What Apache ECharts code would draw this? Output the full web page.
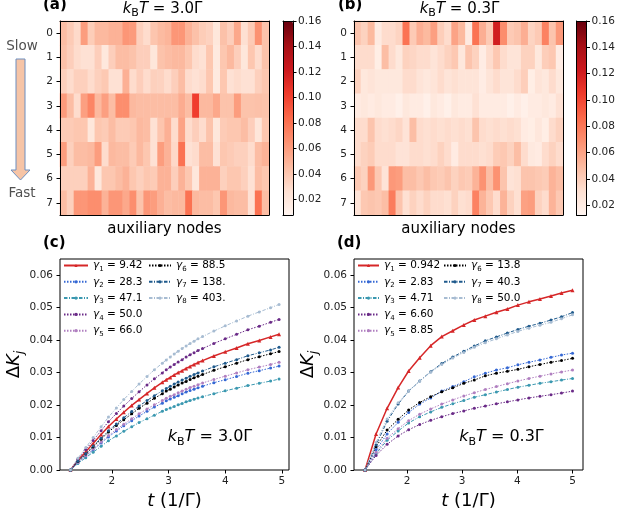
<!DOCTYPE html>
<html><head><meta charset="utf-8">
<script src="https://cdn.jsdelivr.net/npm/echarts@6/dist/echarts.min.js"></script>
<style>html,body{margin:0;padding:0;background:#fff}#c{width:618px;height:514px}</style>
</head><body><div id="c"></div>
<script>
// ---------- data ----------
const rowLabels = ['0','1','2','3','4','5','6','7'];
const auxNodes = ['1','2','3','4','5','6','7','8','9','10','11','12','13','14','15','16','17','18','19','20','21','22','23','24','25','26','27','28','29','30'];
const heatA = [
 [0.045,0.038,0.030,0.060,0.037,0.047,0.047,0.050,0.050,0.063,0.061,0.035,0.029,0.041,0.046,0.049,0.063,0.063,0.050,0.043,0.037,0.034,0.021,0.043,0.036,0.055,0.027,0.038,0.065,0.042],
 [0.043,0.036,0.029,0.026,0.026,0.036,0.020,0.036,0.045,0.045,0.042,0.036,0.036,0.022,0.042,0.045,0.047,0.047,0.040,0.029,0.026,0.040,0.019,0.040,0.047,0.036,0.021,0.040,0.029,0.042],
 [0.035,0.029,0.035,0.035,0.029,0.035,0.039,0.026,0.026,0.051,0.029,0.036,0.029,0.035,0.034,0.029,0.036,0.045,0.029,0.026,0.029,0.040,0.019,0.040,0.026,0.029,0.026,0.026,0.035,0.040],
 [0.061,0.045,0.029,0.059,0.071,0.047,0.059,0.045,0.067,0.067,0.047,0.045,0.045,0.045,0.045,0.045,0.045,0.053,0.045,0.102,0.047,0.047,0.055,0.042,0.042,0.060,0.042,0.042,0.043,0.042],
 [0.038,0.038,0.040,0.040,0.021,0.040,0.038,0.045,0.038,0.038,0.040,0.047,0.045,0.026,0.041,0.051,0.029,0.057,0.029,0.036,0.029,0.042,0.021,0.038,0.040,0.040,0.045,0.036,0.022,0.040],
 [0.060,0.035,0.045,0.045,0.047,0.060,0.029,0.047,0.045,0.045,0.038,0.047,0.040,0.026,0.060,0.050,0.031,0.080,0.026,0.029,0.045,0.045,0.026,0.040,0.038,0.035,0.035,0.029,0.045,0.050],
 [0.035,0.035,0.035,0.035,0.050,0.021,0.040,0.040,0.045,0.050,0.040,0.035,0.040,0.038,0.050,0.050,0.036,0.050,0.040,0.021,0.050,0.050,0.050,0.035,0.040,0.040,0.035,0.026,0.045,0.040],
 [0.045,0.035,0.063,0.063,0.067,0.067,0.050,0.063,0.063,0.055,0.067,0.042,0.063,0.060,0.051,0.045,0.047,0.047,0.080,0.047,0.045,0.045,0.040,0.063,0.047,0.045,0.045,0.026,0.080,0.045]
];
const heatB = [
 [0.045,0.038,0.050,0.022,0.033,0.033,0.037,0.082,0.042,0.055,0.050,0.062,0.040,0.033,0.060,0.050,0.022,0.082,0.055,0.042,0.120,0.070,0.042,0.045,0.055,0.037,0.042,0.075,0.045,0.065],
 [0.033,0.033,0.033,0.019,0.048,0.033,0.024,0.038,0.036,0.033,0.033,0.027,0.033,0.038,0.043,0.025,0.045,0.038,0.020,0.033,0.043,0.033,0.027,0.027,0.038,0.038,0.024,0.040,0.043,0.020],
 [0.038,0.024,0.027,0.024,0.024,0.024,0.024,0.033,0.033,0.027,0.024,0.027,0.033,0.027,0.031,0.027,0.027,0.027,0.020,0.027,0.033,0.027,0.027,0.033,0.040,0.019,0.027,0.024,0.033,0.024],
 [0.021,0.024,0.021,0.024,0.021,0.021,0.017,0.024,0.021,0.021,0.017,0.024,0.021,0.017,0.024,0.021,0.021,0.030,0.021,0.021,0.021,0.021,0.017,0.021,0.017,0.021,0.021,0.024,0.021,0.030],
 [0.033,0.033,0.045,0.033,0.031,0.033,0.036,0.028,0.048,0.033,0.031,0.033,0.031,0.033,0.031,0.033,0.031,0.045,0.033,0.031,0.033,0.031,0.033,0.031,0.021,0.019,0.025,0.019,0.033,0.038],
 [0.033,0.038,0.041,0.033,0.033,0.033,0.028,0.028,0.033,0.033,0.031,0.033,0.038,0.033,0.021,0.033,0.033,0.033,0.031,0.033,0.041,0.043,0.038,0.048,0.033,0.023,0.021,0.033,0.038,0.033],
 [0.043,0.038,0.065,0.043,0.028,0.065,0.063,0.048,0.048,0.043,0.048,0.043,0.041,0.045,0.038,0.043,0.041,0.053,0.068,0.048,0.068,0.045,0.028,0.031,0.045,0.045,0.043,0.041,0.053,0.048],
 [0.028,0.043,0.045,0.043,0.048,0.078,0.045,0.031,0.038,0.033,0.038,0.033,0.033,0.031,0.038,0.031,0.033,0.075,0.053,0.043,0.033,0.053,0.038,0.031,0.061,0.063,0.038,0.033,0.053,0.043]
];
const cbTicks = [0.02,0.04,0.06,0.08,0.10,0.12,0.14,0.16];

const tC = [1.27,1.40,1.54,1.67,1.81,1.94,2.08,2.21,2.35,2.48,2.62,2.75,2.89,2.96,3.03,3.10,3.17,3.24,3.31,3.38,3.45,3.52,3.60,3.80,4.00,4.20,4.40,4.60,4.80,4.95];
const kC1 = [0,0.0029,0.0056,0.0082,0.0109,0.0134,0.0157,0.0178,0.0199,0.0217,0.0236,0.0253,0.0270,0.0278,0.0285,0.0293,0.0300,0.0306,0.0313,0.0319,0.0325,0.0331,0.0337,0.0351,0.0364,0.0376,0.0389,0.0399,0.0410,0.0418];
const kC2 = [0,0.0022,0.0043,0.0062,0.0083,0.0102,0.0120,0.0136,0.0152,0.0166,0.0181,0.0194,0.0206,0.0213,0.0219,0.0224,0.0229,0.0235,0.0240,0.0245,0.0249,0.0253,0.0258,0.0269,0.0278,0.0288,0.0298,0.0306,0.0314,0.0320];
const kC3 = [0,0.0020,0.0038,0.0055,0.0073,0.0090,0.0105,0.0119,0.0133,0.0146,0.0158,0.0169,0.0181,0.0186,0.0191,0.0196,0.0201,0.0205,0.0210,0.0214,0.0218,0.0222,0.0226,0.0235,0.0244,0.0252,0.0260,0.0267,0.0274,0.0280];
const kC4 = [0,0.0033,0.0063,0.0091,0.0121,0.0149,0.0174,0.0197,0.0220,0.0241,0.0262,0.0281,0.0299,0.0309,0.0317,0.0325,0.0333,0.0340,0.0348,0.0355,0.0361,0.0368,0.0374,0.0390,0.0404,0.0418,0.0432,0.0443,0.0455,0.0464];
const kC5 = [0,0.0023,0.0045,0.0065,0.0086,0.0106,0.0125,0.0141,0.0158,0.0173,0.0188,0.0201,0.0214,0.0221,0.0227,0.0232,0.0238,0.0243,0.0249,0.0254,0.0258,0.0263,0.0268,0.0279,0.0289,0.0299,0.0309,0.0317,0.0325,0.0332];
const kC6 = [0,0.0026,0.0049,0.0071,0.0095,0.0117,0.0137,0.0155,0.0173,0.0190,0.0206,0.0221,0.0235,0.0243,0.0249,0.0256,0.0262,0.0268,0.0273,0.0279,0.0284,0.0289,0.0294,0.0307,0.0318,0.0329,0.0340,0.0349,0.0358,0.0365];
const kC7 = [0,0.0027,0.0051,0.0074,0.0098,0.0121,0.0142,0.0161,0.0180,0.0197,0.0214,0.0229,0.0244,0.0251,0.0258,0.0265,0.0271,0.0277,0.0283,0.0289,0.0294,0.0299,0.0305,0.0318,0.0329,0.0340,0.0352,0.0361,0.0370,0.0378];
const kC8 = [0,0.0036,0.0069,0.0100,0.0133,0.0163,0.0191,0.0217,0.0242,0.0265,0.0288,0.0309,0.0329,0.0339,0.0348,0.0357,0.0366,0.0374,0.0382,0.0390,0.0397,0.0404,0.0411,0.0428,0.0444,0.0459,0.0474,0.0487,0.0500,0.0510];

const tD = [1.24,1.44,1.64,1.84,2.03,2.23,2.43,2.63,2.83,3.03,3.22,3.42,3.62,3.82,4.01,4.21,4.41,4.61,4.80,5.00];
const kD1 = [0,0.0111,0.0190,0.0254,0.0305,0.0346,0.0383,0.0411,0.0429,0.0447,0.0462,0.0474,0.0486,0.0496,0.0508,0.0518,0.0527,0.0536,0.0545,0.0554];
const kD2 = [0,0.0062,0.0111,0.0147,0.0177,0.0203,0.0222,0.0243,0.0257,0.0272,0.0287,0.0298,0.0308,0.0315,0.0324,0.0332,0.0339,0.0347,0.0354,0.0360];
const kD3 = [0,0.0050,0.0092,0.0120,0.0145,0.0164,0.0179,0.0193,0.0204,0.0214,0.0224,0.0232,0.0240,0.0248,0.0255,0.0261,0.0267,0.0272,0.0277,0.0282];
const kD4 = [0,0.0045,0.0079,0.0105,0.0124,0.0140,0.0153,0.0164,0.0174,0.0182,0.0190,0.0197,0.0204,0.0210,0.0216,0.0222,0.0227,0.0232,0.0237,0.0243];
const kD5 = [0,0.0055,0.0098,0.0127,0.0152,0.0172,0.0188,0.0203,0.0216,0.0228,0.0238,0.0248,0.0257,0.0266,0.0274,0.0282,0.0289,0.0296,0.0302,0.0308];
const kD6 = [0,0.0072,0.0123,0.0156,0.0185,0.0208,0.0226,0.0241,0.0253,0.0267,0.0277,0.0290,0.0298,0.0304,0.0310,0.0318,0.0325,0.0332,0.0337,0.0344];
const kD7 = [0,0.0077,0.0150,0.0203,0.0243,0.0274,0.0303,0.0328,0.0348,0.0366,0.0382,0.0398,0.0410,0.0422,0.0433,0.0443,0.0452,0.0462,0.0472,0.0485];
const kD8 = [0,0.0085,0.0157,0.0207,0.0244,0.0274,0.0301,0.0325,0.0345,0.0362,0.0378,0.0392,0.0404,0.0416,0.0427,0.0437,0.0446,0.0455,0.0466,0.0478];

const gammaC = ['9.42','28.3','47.1','50.0','66.0','88.5','138.','403.'];
const gammaD = ['0.942','2.83','4.71','6.60','8.85','13.8','40.3','50.0'];
const xTicks = [2,3,4,5];
const yTicks = [0,0.01,0.02,0.03,0.04,0.05,0.06];

// ---------- style ----------
const FONT = 'DejaVu Sans';
const REDS = ['#fff5f0','#fee0d2','#fcbba1','#fc9272','#fb6a4a','#ef3b2c','#cb181d','#a50f15','#67000d'];
const COLORS = ['#d62728','#3568d4','#3a98b0','#6a2a87','#b07fc0','#000000','#1f5a8c','#a7bcd2'];
const DOT = [1.5,1.5], DASHDOT = [3.5,1.5,1,1.5];
const DASHES = ['solid',DOT,DASHDOT,DOT,DOT,DOT,DASHDOT,DASHDOT];

function R(size){
  return {
    i:{fontFamily:FONT,fontStyle:'italic',fontSize:size,lineHeight:Math.round(size*1.3)},
    r:{fontFamily:FONT,fontSize:size,lineHeight:Math.round(size*1.3)},
    s:{fontFamily:FONT,fontSize:Math.round(size*0.7),lineHeight:Math.round(size*0.87),verticalAlign:'bottom'},
    si:{fontFamily:FONT,fontStyle:'italic',fontSize:Math.round(size*0.7),lineHeight:Math.round(size*0.87),verticalAlign:'bottom'}
  };
}

function heatData(m){
  const out=[];
  m.forEach((row,r)=>row.forEach((v,c)=>out.push([c,r,v])));
  return out;
}

const chart = echarts.init(document.getElementById('c'));

const grids = [
  {left:60,top:21,width:209,height:194},
  {left:354,top:21,width:209,height:194},
  {left:283,top:21,width:10,height:194},
  {left:576.5,top:21,width:10,height:194},
  {left:60,top:259,width:229,height:211,show:true,borderColor:'#000',borderWidth:1,backgroundColor:'transparent'},
  {left:354,top:259,width:229,height:211,show:true,borderColor:'#000',borderWidth:1,backgroundColor:'transparent'}
];

const lineAx = {show:true,lineStyle:{color:'#000',width:1}};
const tickLbl = {fontFamily:FONT,fontSize:10.5,color:'#222'};

function heatX(g){
  return [
    {type:'category',gridIndex:g,data:auxNodes,position:'bottom',z:5,axisLine:lineAx,axisTick:{show:false},axisLabel:{show:false},
     name:'auxiliary nodes',nameLocation:'middle',nameGap:7,nameTextStyle:{fontFamily:FONT,fontSize:15,color:'#000',verticalAlign:'top'}},
    {type:'category',gridIndex:g,data:auxNodes,position:'top',z:5,axisLine:lineAx,axisTick:{show:false},axisLabel:{show:false}}
  ];
}
function heatY(g){
  return [
    {type:'category',gridIndex:g,data:rowLabels,inverse:true,position:'left',z:5,axisLine:lineAx,
     axisTick:{show:true,alignWithLabel:true,length:3.5,lineStyle:{color:'#000'}},axisLabel:Object.assign({margin:7},tickLbl)},
    {type:'category',gridIndex:g,data:rowLabels,inverse:true,position:'right',z:5,axisLine:lineAx,axisTick:{show:false},axisLabel:{show:false}}
  ];
}
function cbX(g){
  return [
    {type:'value',gridIndex:g,min:0,max:1,position:'bottom',z:6,axisLine:Object.assign({onZero:false},lineAx),axisTick:{show:false},axisLabel:{show:false},splitLine:{show:false}},
    {type:'value',gridIndex:g,min:0,max:1,position:'top',z:6,axisLine:Object.assign({onZero:false},lineAx),axisTick:{show:false},axisLabel:{show:false},splitLine:{show:false}}
  ];
}
function cbY(g,vmin){
  return [
    {type:'value',gridIndex:g,min:vmin,max:0.16,position:'left',z:6,axisLine:Object.assign({onZero:false},lineAx),axisTick:{show:false},axisLabel:{show:false},splitLine:{show:false}},
    {type:'value',gridIndex:g,min:vmin,max:0.16,position:'right',z:6,axisLine:Object.assign({onZero:false},lineAx),
     axisTick:{show:true,length:3.5,customValues:cbTicks,lineStyle:{color:'#000'}},
     axisLabel:Object.assign({margin:5,customValues:cbTicks,formatter:v=>v.toFixed(2)},tickLbl),splitLine:{show:false}}
  ];
}
function lineX(g,mn,mx){
  return {type:'value',gridIndex:g,min:mn,max:mx,axisLine:{show:false,onZero:false},
    axisTick:{show:true,length:3.5,customValues:xTicks,lineStyle:{color:'#000'}},
    axisLabel:Object.assign({margin:6,customValues:xTicks,formatter:v=>String(v)},tickLbl),splitLine:{show:false},
    name:'{i|t}{r| (1/Γ)}',nameLocation:'middle',nameGap:20,nameTextStyle:{color:'#000',verticalAlign:'top',rich:R(18)}};
}
function lineY(g){
  return {type:'value',gridIndex:g,min:0,max:0.065,axisLine:{show:false,onZero:false},
    axisTick:{show:true,length:3.5,customValues:yTicks,lineStyle:{color:'#000'}},
    axisLabel:Object.assign({margin:7,customValues:yTicks,formatter:v=>v.toFixed(2)},tickLbl),splitLine:{show:false},
    name:'{r|Δ}{i|K}{si|j}',nameLocation:'middle',nameGap:30,nameRotate:90,nameTextStyle:{color:'#000',rich:R(18)}};
}

const xAxes = [].concat(heatX(0),heatX(1),cbX(2),cbX(3),[lineX(4,1.085,5.125),lineX(5,1.04,5.19)]);
const yAxes = [].concat(heatY(0),heatY(1),cbY(2,0.008),cbY(3,0.0125),[lineY(4),lineY(5)]);

const series = [
  {type:'heatmap',xAxisIndex:0,yAxisIndex:0,data:heatData(heatA),emphasis:{disabled:true},progressive:0},
  {type:'heatmap',xAxisIndex:2,yAxisIndex:2,data:heatData(heatB),emphasis:{disabled:true},progressive:0}
];
function addLines(prefix,ts,ys,axisIdx){
  ys.forEach((arr,j)=>{
    series.push({
      type:'line',name:prefix+(j+1),xAxisIndex:axisIdx,yAxisIndex:axisIdx,
      data:ts.map((t,i)=>[t,arr[i]]),
      symbol:j===0?'triangle':'circle',symbolSize:j===0?4:3,showSymbol:true,
      lineStyle:{color:COLORS[j],width:j===0?1.5:1,type:DASHES[j]},
      itemStyle:{color:COLORS[j]},emphasis:{disabled:true},silent:true
    });
  });
}
addLines('c',tC,[kC1,kC2,kC3,kC4,kC5,kC6,kC7,kC8],8);
addLines('d',tD,[kD1,kD2,kD3,kD4,kD5,kD6,kD7,kD8],9);

function legendFmt(name){
  const j = +name.slice(1)-1;
  const g = name[0]==='c'?gammaC:gammaD;
  return '{i|γ}{s|'+(j+1)+'}{r| = '+g[j]+'}';
}
function legend(names,left,iw){
  return {data:names,left:left,top:260,orient:'vertical',itemWidth:iw,itemHeight:4,itemGap:3.8,padding:0,
    selectedMode:false,formatter:legendFmt,textStyle:{fontFamily:FONT,fontSize:10.5,color:'#000',rich:R(10.5)}};
}

const kT = v => '{i|k}{s|B}{i|T}{r| = '+v+'Γ}';

const option = {
  animation:false,
  textStyle:{fontFamily:FONT},
  grid:grids,
  xAxis:xAxes,
  yAxis:yAxes,
  visualMap:[
    {type:'continuous',seriesIndex:0,min:0.008,max:0.16,left:283,top:21,itemWidth:10,itemHeight:194,calculable:false,padding:0,hoverLink:false,inRange:{color:REDS}},
    {type:'continuous',seriesIndex:1,min:0.0125,max:0.16,left:576.5,top:21,itemWidth:10,itemHeight:194,calculable:false,padding:0,hoverLink:false,inRange:{color:REDS}}
  ],
  legend:[
    legend(['c1','c2','c3','c4','c5'],63,24),
    legend(['c6','c7','c8'],148,22),
    legend(['d1','d2','d3','d4','d5'],357,21),
    legend(['d6','d7','d8'],443,22)
  ],
  series:series,
  graphic:{elements:[
    {type:'text',x:43,y:5,z:100,style:{text:'(a)',fontFamily:FONT,fontWeight:'bold',fontSize:15,fill:'#000',align:'left',verticalAlign:'middle'}},
    {type:'text',x:338,y:5,z:100,style:{text:'(b)',fontFamily:FONT,fontWeight:'bold',fontSize:15,fill:'#000',align:'left',verticalAlign:'middle'}},
    {type:'text',x:43,y:243,z:100,style:{text:'(c)',fontFamily:FONT,fontWeight:'bold',fontSize:15,fill:'#000',align:'left',verticalAlign:'middle'}},
    {type:'text',x:337,y:243,z:100,style:{text:'(d)',fontFamily:FONT,fontWeight:'bold',fontSize:15,fill:'#000',align:'left',verticalAlign:'middle'}},
    {type:'text',x:162.5,y:9,z:100,style:{text:kT('3.0'),rich:R(15),fill:'#000',align:'center',verticalAlign:'middle'}},
    {type:'text',x:459.5,y:9,z:100,style:{text:kT('0.3'),rich:R(15),fill:'#000',align:'center',verticalAlign:'middle'}},
    {type:'text',x:210,y:437,z:100,style:{text:kT('3.0'),rich:R(16),fill:'#000',align:'center',verticalAlign:'middle'}},
    {type:'text',x:501.5,y:437,z:100,style:{text:kT('0.3'),rich:R(16),fill:'#000',align:'center',verticalAlign:'middle'}},
    {type:'text',x:22,y:46,z:100,style:{text:'Slow',fontFamily:FONT,fontSize:13.5,fill:'#505050',align:'center',verticalAlign:'middle'}},
    {type:'text',x:22,y:193,z:100,style:{text:'Fast',fontFamily:FONT,fontSize:13.5,fill:'#505050',align:'center',verticalAlign:'middle'}},
    {type:'polygon',z:100,shape:{points:[[16,59],[25,59],[25,170],[30,170],[20.5,180],[11,170],[16,170]]},
     style:{fill:'#f6c4a6',stroke:'#6c8ebf',lineWidth:1}}
  ]}
};
chart.setOption(option);
</script></body></html>
